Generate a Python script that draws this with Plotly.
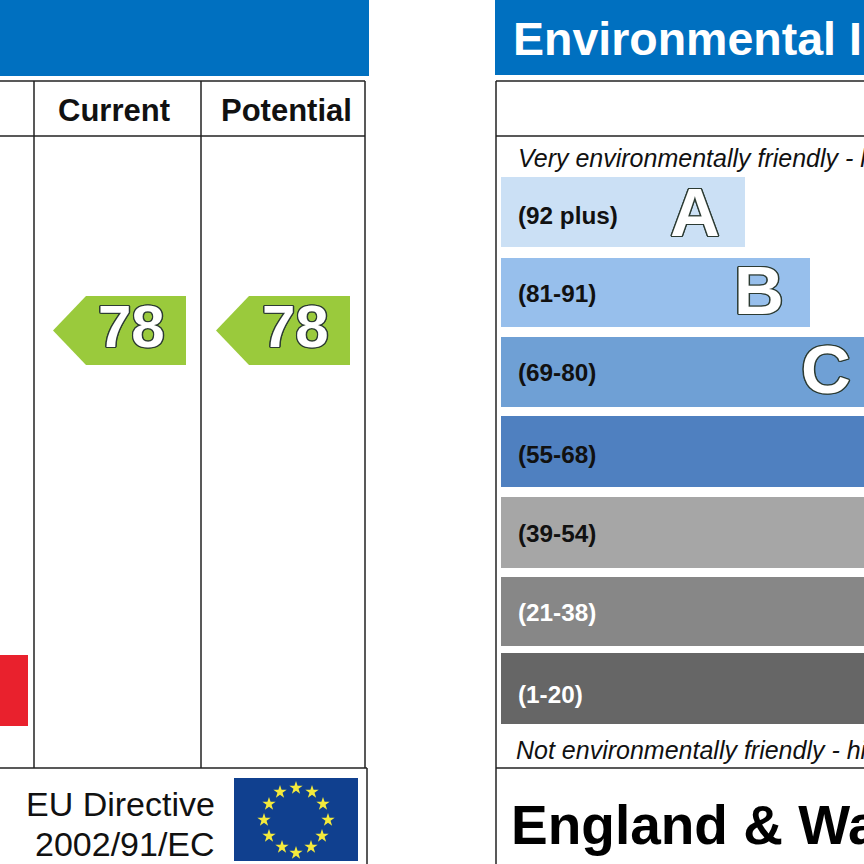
import plotly.graph_objects as go

BAND_RANGES = ["(92 plus)", "(81-91)", "(69-80)", "(55-68)", "(39-54)", "(21-38)", "(1-20)"]
BAND_LETTERS = ["A", "B", "C"]
BAND_LENGTHS = [244, 309, 374, 439, 504, 569, 634]
BAND_TOPS = [177, 258, 337, 416, 497, 577, 653]
BAND_BOTTOMS = [247, 327, 407, 487, 568, 646, 724]
BAND_COLORS = ["#cbe0f5", "#97bfec", "#6fa0d5", "#4f80c0", "#a6a6a6", "#878787", "#666666"]
BAND_TEXT = ["#111", "#111", "#111", "#111", "#111", "#fff", "#fff"]
BAND_TEXT_Y = [215, 293, 372, 454, 533, 612, 694]
LETTER_X = [695, 759, 826]
LETTER_Y = [212, 290, 369]

CURRENT = 78
POTENTIAL = 78
FLAG_STAR_X = [280, 296, 312, 323, 328, 322, 311, 296, 282, 269, 264, 269]
FLAG_STAR_Y = [792, 788, 792, 804, 820, 836, 847, 853, 847, 836, 820, 804]

fig = go.Figure()

fig.add_trace(go.Bar(
    y=[(t + b) / 2 for t, b in zip(BAND_TOPS, BAND_BOTTOMS)],
    x=BAND_LENGTHS, base=501, orientation="h",
    width=[b - t for t, b in zip(BAND_TOPS, BAND_BOTTOMS)],
    marker=dict(color=BAND_COLORS, line_width=0), hoverinfo="skip",
))
fig.add_trace(go.Bar(
    y=[690.5], x=[60], base=-32, orientation="h", width=[71],
    marker=dict(color="#e9212d", line_width=0), hoverinfo="skip",
))
for value, tip, right in [(CURRENT, 53, 186), (POTENTIAL, 216, 350)]:
    fig.add_trace(go.Scatter(
        x=[tip, tip + 33, right, right, tip + 33, tip],
        y=[330.5, 296, 296, 365, 365, 330.5],
        mode="lines", fill="toself", fillcolor="#9aca3c",
        line=dict(width=0, color="#9aca3c"), hoverinfo="skip",
    ))
fig.add_trace(go.Scatter(
    x=FLAG_STAR_X, y=FLAG_STAR_Y, mode="markers",
    marker=dict(symbol="star", size=10, color="#f4ea3c", line_width=0),
    hoverinfo="skip",
))

shapes = [
    dict(type="rect", x0=-2, x1=369, y0=0, y1=76, fillcolor="#0070c0", line_width=0, layer="below"),
    dict(type="rect", x0=495, x1=866, y0=0, y1=75, fillcolor="#0070c0", line_width=0, layer="below"),
    dict(type="rect", x0=234, x1=358, y0=778, y1=861, fillcolor="#10408f", line_width=0, layer="below"),
]
segments = [
    (-2, 81, 365, 81), (-2, 136, 365, 136), (34, 81, 34, 768), (201, 81, 201, 768),
    (365, 81, 365, 768), (-2, 768, 367, 768), (367, 768, 367, 866),
    (496, 81, 866, 81), (496, 136, 866, 136), (496, 768, 866, 768), (496, 81, 496, 866),
]
for x0, y0, x1, y1 in segments:
    shapes.append(dict(type="line", x0=x0, y0=y0, x1=x1, y1=y1,
                       line=dict(color="#222", width=1.5), layer="above"))

FONT = "Liberation Sans, Arial, sans-serif"
C = "#2c3b33"
OUTLINE = ", ".join(f"{dx}px {dy}px 0 {C}" for dx, dy in
                    [(1.4, 0), (-1.4, 0), (0, 1.4), (0, -1.4), (1, 1), (-1, 1), (1, -1), (-1, -1)])
ann = []


def text(x, y, s, size, color="#111", weight="normal", style="normal", anchor="left", shadow=None):
    font = dict(family=FONT, size=size, color=color, weight=weight, style=style)
    if shadow:
        font["shadow"] = shadow
    ann.append(dict(x=x, y=y, text=s, showarrow=False, xanchor=anchor, yanchor="middle",
                    font=font, xref="x", yref="y", borderpad=0, borderwidth=0))


text(513, 39, "Environmental I", 46.5, "#fff", "bold")
text(114, 110, "Current", 31, weight="bold", anchor="center")
text(286, 110, "Potential", 31, weight="bold", anchor="center")
text(518, 158, "Very environmentally friendly - l", 25, style="italic")
text(516, 750, "Not environmentally friendly - hi", 25, style="italic")
for label, color, y in zip(BAND_RANGES, BAND_TEXT, BAND_TEXT_Y):
    text(518, y, label, 24.3, color, "bold")
for letter, x, y in zip(BAND_LETTERS, LETTER_X, LETTER_Y):
    text(x, y, letter, 69, "#fff", "bold", anchor="center", shadow=OUTLINE)
text(131, 326, str(CURRENT), 60, "#fff", "bold", anchor="center", shadow=OUTLINE)
text(295, 326, str(POTENTIAL), 60, "#fff", "bold", anchor="center", shadow=OUTLINE)
text(215, 804, "EU Directive", 34, anchor="right")
text(215, 844, "2002/91/EC", 34, anchor="right")
text(511, 825, "England &amp; Wa", 55, "#000", "bold")

fig.update_layout(
    width=864, height=864, margin=dict(l=0, r=0, t=0, b=0), autosize=False,
    paper_bgcolor="#fff", plot_bgcolor="#fff", showlegend=False, barmode="overlay",
    xaxis=dict(range=[0, 864], visible=False, fixedrange=True),
    yaxis=dict(range=[864, 0], visible=False, fixedrange=True),
    shapes=shapes, annotations=ann,
)
fig.write_html("out.html", config={"displayModeBar": False},
               post_script="document.body.style.margin='0';document.body.style.overflow='hidden';")
